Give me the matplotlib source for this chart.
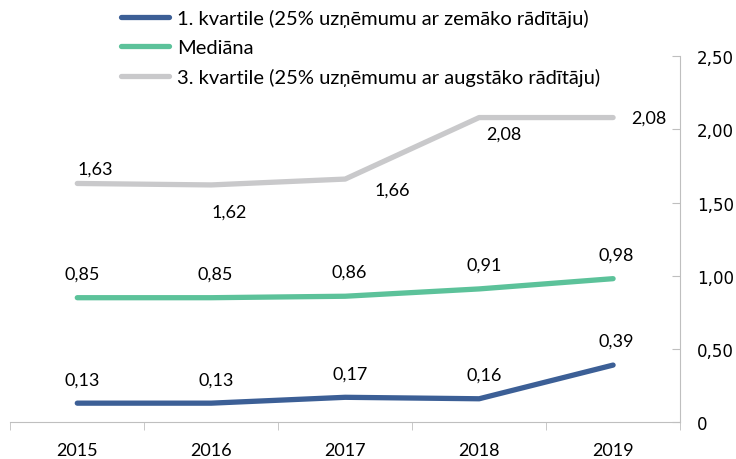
import matplotlib.pyplot as plt
import numpy as np

years = ["2015", "2016", "2017", "2018", "2019"]
q1 = [0.13, 0.13, 0.17, 0.16, 0.39]
median = [0.85, 0.85, 0.86, 0.91, 0.98]
q3 = [1.63, 1.62, 1.66, 2.08, 2.08]
names = ["1. kvartile (25% uzņēmumu ar zemāko rādītāju)",
         "Mediāna",
         "3. kvartile (25% uzņēmumu ar augstāko rādītāju)"]
yticks = [0, 0.5, 1.0, 1.5, 2.0, 2.5]

plt.rcParams['font.family'] = ['Lato', 'DejaVu Sans']

fig = plt.figure(figsize=(7.36, 4.6), dpi=100)
ax = fig.add_axes([0.014, 0.080, 0.910, 0.796])

x = np.arange(len(years))
cols = ["#3C5F96", "#5CC29A", "#C9C9CB"]
for vals, c, n in zip([q1, median, q3], cols, names):
    ax.plot(x, vals, color=c, lw=3.8, label=n, solid_capstyle='round')

def fmt(v):
    return ("%.2f" % v).replace(".", ",")

px = 0.72  # points per pixel at 100 dpi

# offsets of label centres from the points, in pixels (right, up)
q1_off = [(5, 24), (5, 24), (5, 24), (5, 24), (3, 24)]
med_off = [(5, 24), (4, 24), (4, 25), (5, 24), (3, 24)]
q3_off = [(18, 15), (18, -27), (47, -11), (25, -16), (36, 0)]
for vals, offs in [(q1, q1_off), (median, med_off), (q3, q3_off)]:
    for xi, v, (dx, dy) in zip(x, vals, offs):
        ax.annotate(fmt(v), (xi, v), xytext=(dx * px, dy * px),
                    textcoords='offset points', ha='center', va='center',
                    fontsize=13, color='#000000')

ax.set_xlim(-0.5, len(years) - 0.5)
ax.set_ylim(0, 2.5)
ax.set_xticks(x)
ax.set_xticklabels(years, fontsize=13)
ax.set_xticks(np.arange(-0.5, len(years), 1), minor=True)
ax.tick_params(axis='x', which='major', length=0, pad=14)
ax.tick_params(axis='x', which='minor', length=6, color='#BFBFBF', direction='out')

ax.yaxis.tick_right()
ax.set_yticks(yticks)
ax.set_yticklabels(["0"] + [fmt(t) for t in yticks[1:]], fontsize=12,
                   family='DejaVu Sans')
ax.tick_params(axis='y', length=6, color='#BFBFBF', direction='in', pad=12)

for s in ['top', 'left']:
    ax.spines[s].set_visible(False)
ax.spines['right'].set_color('#BFBFBF')
ax.spines['bottom'].set_color('#BFBFBF')
ax.set_facecolor('none')

fig.legend(loc='upper left', bbox_to_anchor=(0.140, 1.017), frameon=False,
           fontsize=14.5, handlelength=2.4, labelspacing=0.58, handletextpad=0.36)

fig.savefig("out.png", dpi=100)
